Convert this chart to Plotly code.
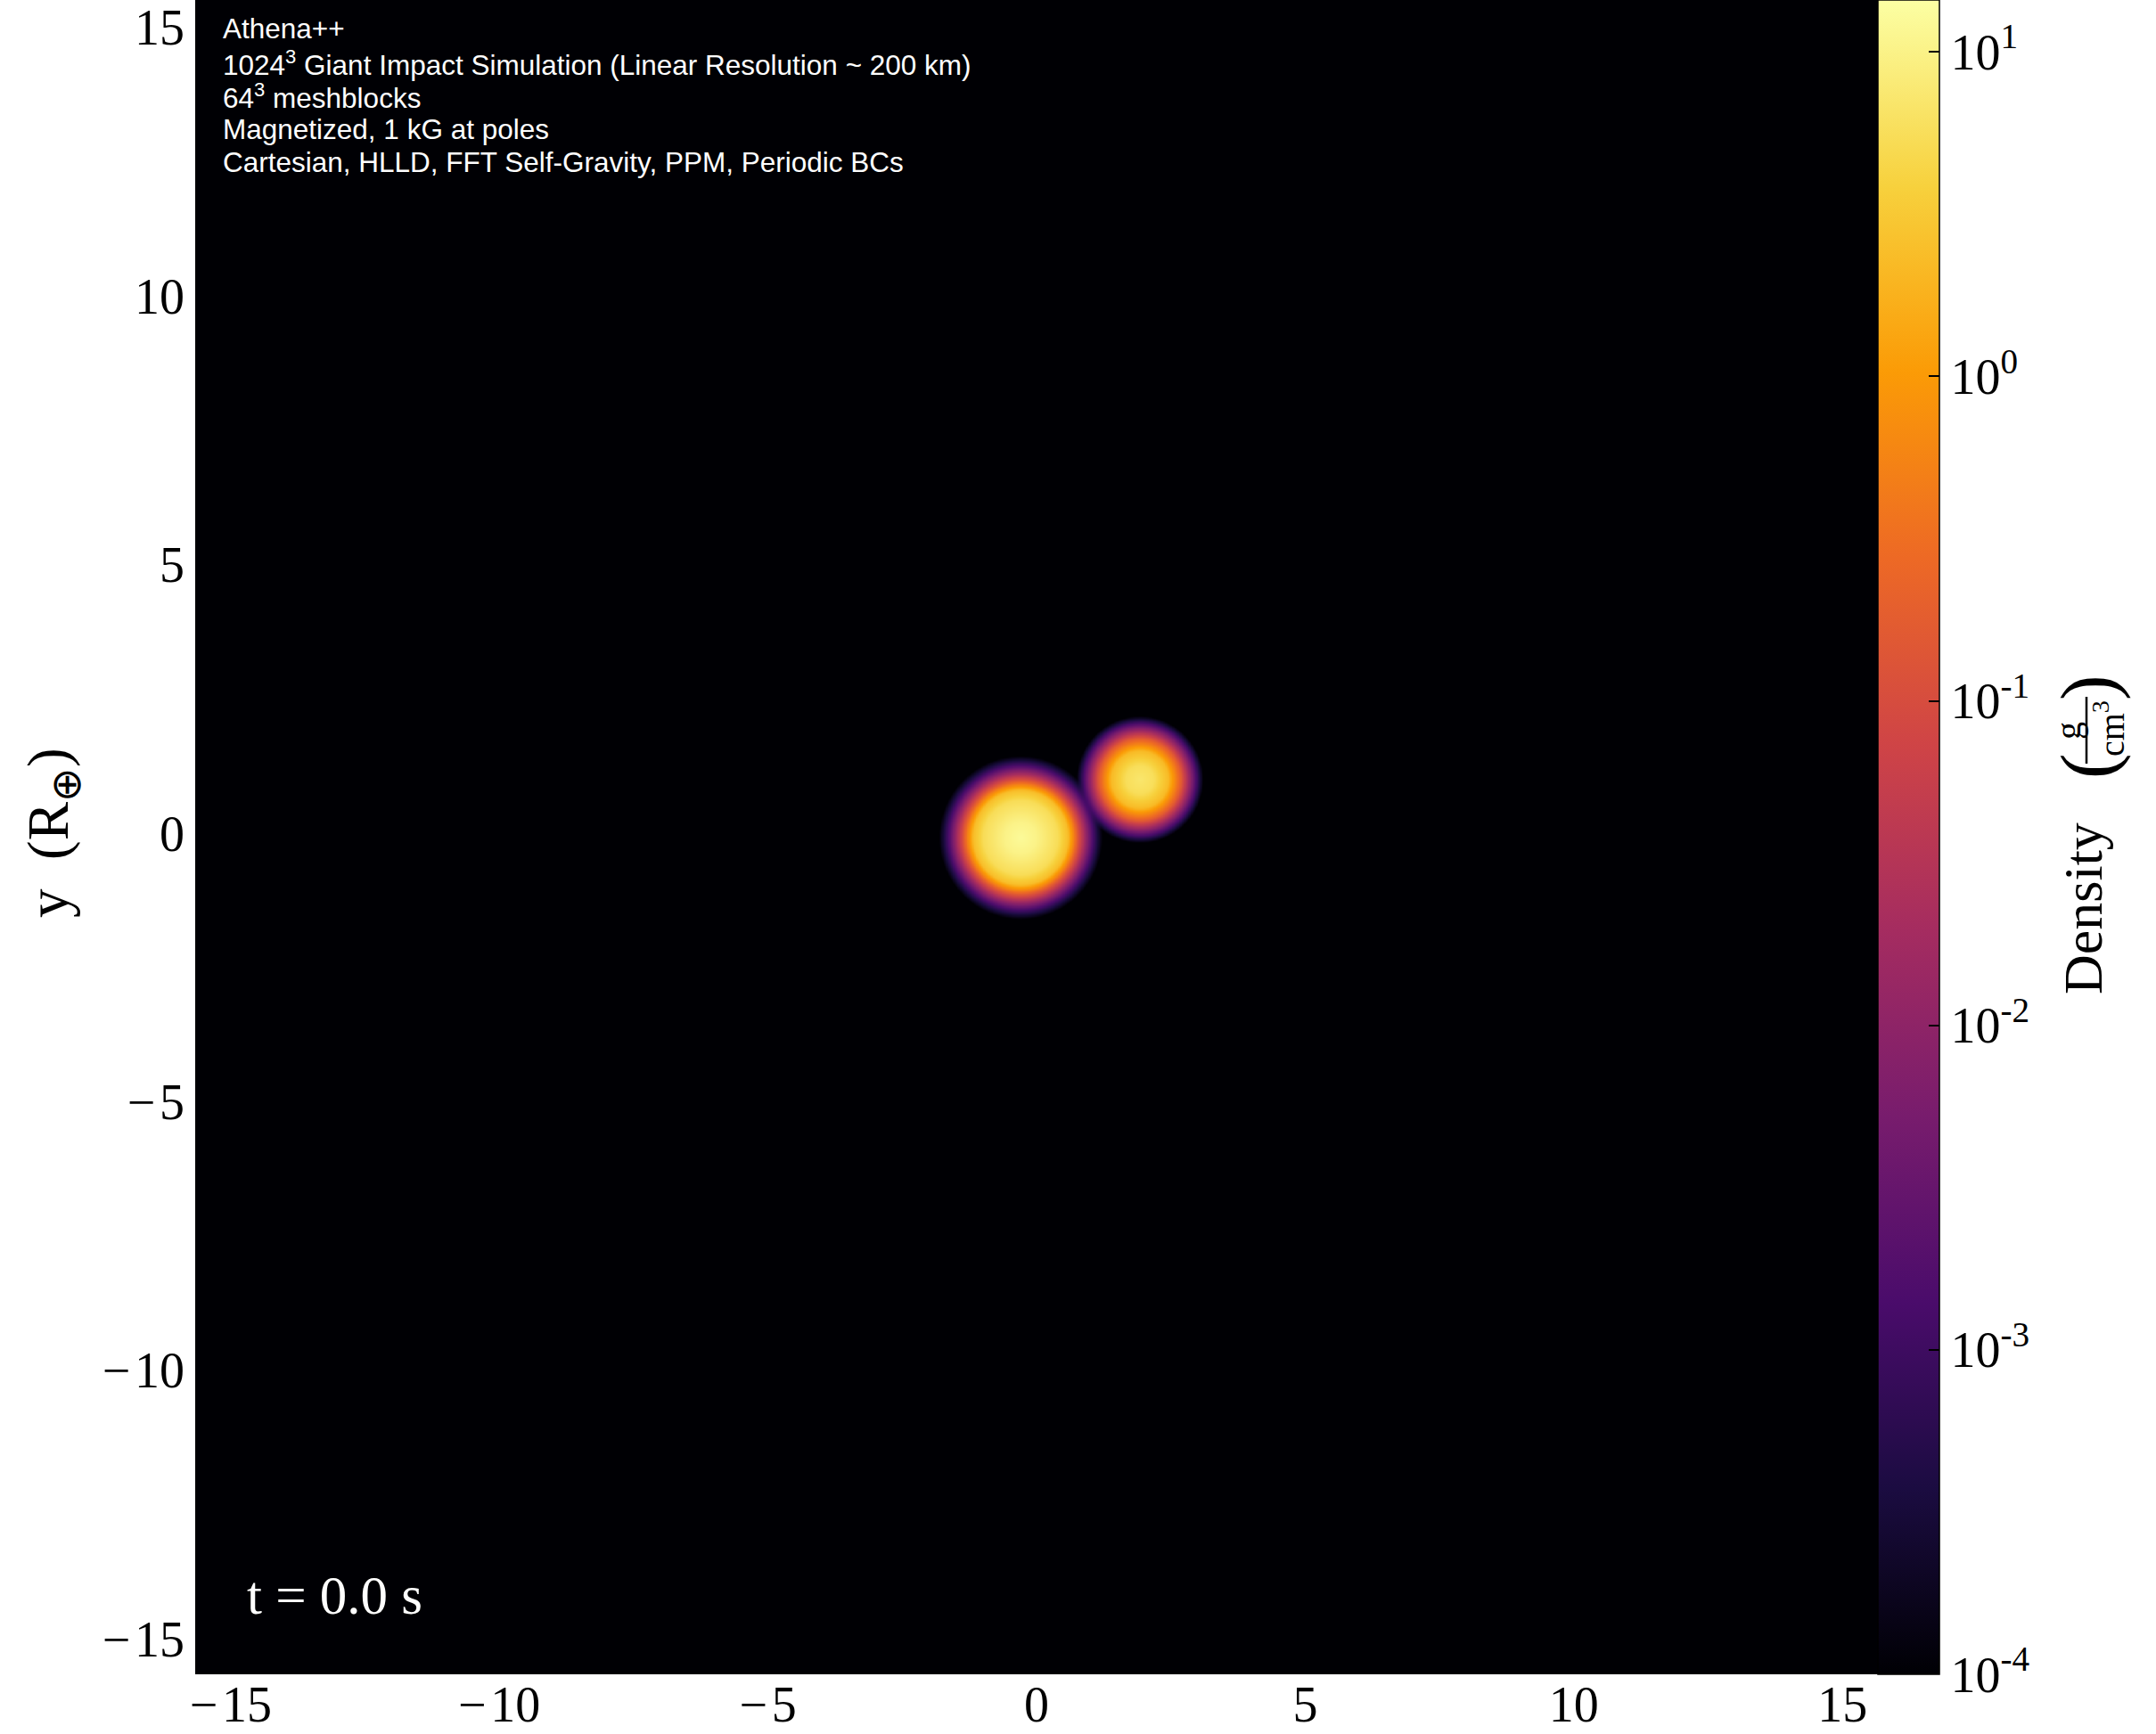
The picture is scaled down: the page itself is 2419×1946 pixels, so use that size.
import numpy as np
import plotly.graph_objects as go

# ---- figure data ------------------------------------------------------------
# Extent of the x-y slice (Earth radii)
x_range = [-15.66, 15.66]
y_range = [-15.66, 15.51]
axis_ticks = [-15, -10, -5, 0, 5, 10, 15]
axis_ticktext = ["\u2212\u200a15", "\u2212\u200a10", "\u2212\u200a5", "0", "5", "10", "15"]

# Body centres in the slice (Earth radii)
target_center = (-0.30, -0.08)
impactor_center = (1.92, 1.00)

# Radial density profiles: radius (Earth radii) and log10 density (g/cm^3)
target_r = [0.00, 0.30, 0.69, 0.88, 0.99, 1.05, 1.13, 1.24, 1.35, 1.44, 1.52]
target_logrho = [1.10, 1.00, 0.74, 0.38, -0.29, -0.75, -1.30, -2.10, -2.90, -3.50, -4.00]
impactor_r = [0.00, 0.26, 0.53, 0.67, 0.76, 0.84, 0.95, 1.05, 1.12, 1.18]
impactor_logrho = [0.85, 0.75, 0.35, -0.30, -0.75, -1.30, -2.10, -2.90, -3.50, -4.00]
background_logrho = -4.0

# Colour scale limits (log10 g/cm^3) and colourbar labels
cmin, cmax = -4.0, 1.16
cbar_tickvals = [-4, -3, -2, -1, 0, 1]
cbar_ticktext = ["10<sup>-4</sup>", "10<sup>-3</sup>", "10<sup>-2</sup>",
                 "10<sup>-1</sup>", "10<sup>0</sup>", "10<sup>1</sup>"]

info_lines = [
    "Athena++",
    "1024<sup>3</sup> Giant Impact Simulation (Linear Resolution ~ 200 km)",
    "64<sup>3</sup> meshblocks",
    "Magnetized, 1 kG at poles",
    "Cartesian, HLLD, FFT Self-Gravity, PPM, Periodic BCs",
]
time_label = "t = 0.0 s"

# ---- density slice near the two bodies -------------------------------------
gx = np.arange(-2.2, 3.4, 0.012)
gy = np.arange(-1.8, 2.6, 0.012)
XX, YY = np.meshgrid(gx, gy)


def body_excess(center, radii, logrho):
    r = np.hypot(XX - center[0], YY - center[1])
    lr = np.interp(r, radii, logrho, right=background_logrho)
    return 10.0 ** lr - 10.0 ** background_logrho


rho = (10.0 ** background_logrho
       + body_excess(target_center, target_r, target_logrho)
       + body_excess(impactor_center, impactor_r, impactor_logrho))
log_rho = np.round(np.log10(rho), 3)

# ---- layout geometry (pixels) ----------------------------------------------
W, H = 2419, 1946
L, R, T, B = 219, 312, 0, 67
PW, PH = W - L - R, H - T - B


def px(xp):
    return (xp - L) / PW


def py(yp):
    return (H - B - yp) / PH


SERIF = "Liberation Serif, Times New Roman, serif"
SANS = "Liberation Sans, Arial, sans-serif"

fig = go.Figure()
fig.add_trace(go.Heatmap(
    x=gx, y=gy, z=log_rho,
    colorscale="Inferno", zmin=cmin, zmax=cmax, zsmooth="best",
    hoverinfo="skip",
    colorbar=dict(
        thickness=69, thicknessmode="pixels",
        len=1, lenmode="fraction",
        x=1, xanchor="left", y=0.5, yanchor="middle",
        xpad=0, ypad=0,
        outlinewidth=1.5, outlinecolor="black",
        tickvals=cbar_tickvals, ticktext=cbar_ticktext,
        ticks="inside", ticklen=12, tickwidth=1.5, tickcolor="black",
        tickfont=dict(family=SERIF, size=56, color="black"),
    ),
))

axis_common = dict(
    tickvals=axis_ticks, ticktext=axis_ticktext, ticks="",
    showgrid=False, zeroline=False, showline=False, automargin=False,
    ticklabeloverflow="allow",
    tickfont=dict(family=SERIF, size=56, color="black"),
)
fig.update_xaxes(range=x_range, ticklabelstandoff=-4, **axis_common)
fig.update_yaxes(range=y_range, ticklabelstandoff=11, **axis_common)

annotations = []
# run information in the upper left corner
line_y = [32, 71, 108, 145, 182]
for txt, yy in zip(info_lines, line_y):
    annotations.append(dict(
        text=txt, xref="paper", yref="paper", x=px(248), y=py(yy),
        xanchor="left", yanchor="middle", showarrow=False,
        font=dict(family=SANS, size=31.5, color="white"),
    ))
# simulation time
annotations.append(dict(
    text=time_label, xref="paper", yref="paper", x=px(275), y=py(1790),
    xanchor="left", yanchor="middle", showarrow=False,
    font=dict(family=SERIF, size=61, color="white"),
))
# y axis title
annotations.append(dict(
    text="y  (R<sub>⊕</sub>)", xref="paper", yref="paper", x=px(59), y=py(935),
    xanchor="center", yanchor="middle", textangle=-90, showarrow=False,
    font=dict(family=SERIF, size=65, color="black"),
))
# colourbar title: Density (g / cm^3)
annotations.append(dict(
    text="Density", xref="paper", yref="paper", x=px(2337), y=py(1020),
    xanchor="center", yanchor="middle", textangle=-90, showarrow=False,
    font=dict(family=SERIF, size=62, color="black"),
))
for ch, yy in (("(", 860), (")", 772)):
    annotations.append(dict(
        text=ch, xref="paper", yref="paper", x=px(2343), y=py(yy),
        xanchor="center", yanchor="middle", textangle=-90, showarrow=False,
        font=dict(family=SERIF, size=86, color="black"),
    ))
annotations.append(dict(
    text="g", xref="paper", yref="paper", x=px(2320), y=py(820),
    xanchor="center", yanchor="middle", textangle=-90, showarrow=False,
    font=dict(family=SERIF, size=40, color="black"),
))
annotations.append(dict(
    text="cm<sup>3</sup>", xref="paper", yref="paper", x=px(2366), y=py(818),
    xanchor="center", yanchor="middle", textangle=-90, showarrow=False,
    font=dict(family=SERIF, size=40, color="black"),
))

fig.update_layout(
    width=W, height=H,
    margin=dict(l=L, r=R, t=T, b=B, autoexpand=False),
    paper_bgcolor="white", plot_bgcolor="rgb(0,0,4)",
    font=dict(family=SERIF, color="black"),
    showlegend=False,
    annotations=annotations,
    shapes=[dict(type="line", xref="paper", yref="paper",
                 x0=px(2341), x1=px(2341), y0=py(782), y1=py(857),
                 line=dict(color="black", width=2.5))],
)

fig.write_html("out.html")
